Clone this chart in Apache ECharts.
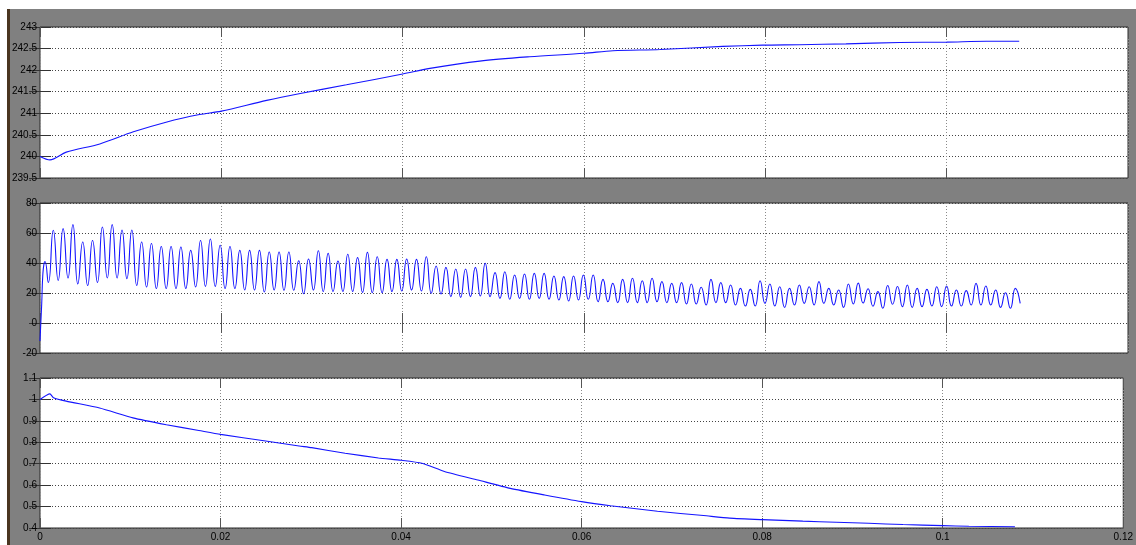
<!DOCTYPE html>
<html><head><meta charset="utf-8">
<script src="https://cdn.jsdelivr.net/npm/echarts@6/dist/echarts.min.js"></script>
<style>html,body{margin:0;padding:0;background:#808080;}#c{width:1136px;height:545px;}</style>
</head><body><div id="c"></div>
<script>
// ---- data ----
const xTickLabels = ['0', '0.02', '0.04', '0.06', '0.08', '0.1', '0.12'];

// Panel 1: [time, value]
const voltageSeries = [
  [0, 240.0], [0.0011, 239.92], [0.0029, 240.1], [0.0066, 240.29], [0.0103, 240.57],
  [0.014, 240.8], [0.0176, 240.97], [0.02, 241.05], [0.025, 241.3], [0.0287, 241.46],
  [0.0338, 241.66], [0.04, 241.91], [0.043, 242.04], [0.0485, 242.21], [0.054, 242.31],
  [0.06, 242.39], [0.0632, 242.45], [0.0684, 242.48], [0.0753, 242.55], [0.0797, 242.58],
  [0.0838, 242.59], [0.0889, 242.61], [0.0948, 242.64], [0.1, 242.65], [0.1044, 242.67],
  [0.108, 242.67]
];

// Panel 2: start transient [time, value], then cycle extremes
const currentStart = [[0, -12], [0.00019, 13], [0.0003, 31], [0.00044, 39.6], [0.00055, 41], [0.00092, 27]];
const currentFirstPeakTime = 0.001466;
const currentPeriod = 0.0010827;
const currentPeaks = [
  61.8, 62.9, 65.6, 54, 55, 64, 65.6, 62, 62, 54,
  53, 51, 51, 50.7, 48.4, 55, 56, 51.8, 51, 48.4,
  48.4, 48.4, 47.3, 47.3, 47.3, 41.5, 42.7, 48.2, 46.4, 41.3,
  45.8, 43.6, 47.1, 44.2, 42.4, 42.4, 42.7, 42.4, 44.2, 38,
  37.1, 36, 36, 37.1, 39.8, 33.6, 34.2, 32, 32.7, 33.1,
  33.1, 31.3, 30.9, 31.3, 32, 32, 29.1, 26.4, 29.1, 29.8,
  28.2, 29.8, 27.6, 26.4, 26.9, 26, 23.8, 29.1, 26.9, 25.3,
  23.1, 22.4, 28.2, 26, 24.2, 23.1, 25.3, 24.2, 27.6, 23.1,
  22, 26, 26.6, 22.8, 20.9, 25, 24.3, 25.3, 23.1, 22.4,
  24.2, 24.7, 22, 21.6, 26.4, 24.7, 22, 20.2, 23.1
];
const currentTroughs = [
  28.4, 30, 26, 25, 27, 30, 30, 29.6, 25, 24,
  23, 23, 23, 23, 24, 24.4, 24.4, 23, 23, 22,
  22, 20.7, 22, 21.8, 21.8, 19.5, 22, 21, 21, 21,
  21, 20.4, 20.2, 20.2, 21, 21.3, 22, 21.3, 19.8, 19.3,
  17.6, 17.1, 17.6, 18, 17.6, 16.4, 15.8, 16.4, 15.8, 16.4,
  15.8, 15.3, 14.7, 15.3, 15.8, 14.2, 14.2, 13.6, 13.6, 13.6,
  13.6, 14.2, 13.6, 13.6, 12.7, 12.7, 12, 13.6, 13.6, 12,
  11.3, 11.3, 13.1, 11.3, 10.4, 12, 13.1, 12, 13.1, 12,
  10.4, 12.7, 13.3, 11.2, 9.8, 12.5, 10.9, 10.4, 10.9, 11.3,
  10.9, 11.3, 11.3, 12, 12, 12, 10.4, 9.8, 13.1
];

// Panel 3: [time, value]
const ratioSeries = [
  [0, 1.0], [0.0011, 1.026], [0.0015, 1.008], [0.0029, 0.992], [0.0066, 0.96],
  [0.0103, 0.914], [0.014, 0.882], [0.0176, 0.855], [0.02, 0.837], [0.025, 0.806],
  [0.0287, 0.783], [0.0301, 0.775], [0.0338, 0.749], [0.0375, 0.727], [0.04, 0.716],
  [0.0423, 0.702], [0.0448, 0.664], [0.0485, 0.624], [0.0521, 0.585], [0.0559, 0.554],
  [0.06, 0.523], [0.0632, 0.504], [0.0684, 0.478], [0.0735, 0.458], [0.0764, 0.446],
  [0.08, 0.439], [0.0845, 0.432], [0.0882, 0.427], [0.0918, 0.422], [0.0956, 0.416],
  [0.1, 0.411], [0.1029, 0.408], [0.108, 0.406]
];

const yRanges = [
  { min: 239.5, max: 243, interval: 0.5 },
  { min: -20, max: 80, interval: 20 },
  { min: 0.4, max: 1.1, interval: 0.1 }
];

// ---- build ----
const currentSeries = currentStart.slice();
for (let i = 0; i < currentPeaks.length; i++) {
  currentSeries.push([currentFirstPeakTime + i * currentPeriod, currentPeaks[i]]);
  currentSeries.push([currentFirstPeakTime + (i + 0.5) * currentPeriod, currentTroughs[i]]);
}
const seriesData = [voltageSeries, currentSeries, ratioSeries];
const smoothness = [0.3, 0.55, 0.2];

const font = 'Liberation Sans, Arial, sans-serif';
const gridBoxes = [
  { top: 27, height: 151 },
  { top: 203, height: 150 },
  { top: 378, height: 150 }
];
const grids = gridBoxes.map(b => ({
  left: 40, top: b.top, width: 1088, height: b.height,
  show: true, backgroundColor: '#ffffff', borderColor: '#2a2a2a', borderWidth: 1
}));

const xAxes = [], yAxes = [], series = [];
for (let g = 0; g < 3; g++) {
  const xBase = {
    type: 'value', gridIndex: g, min: 0, max: 0.12, interval: 0.02,
    axisLine: { show: false },
    axisTick: { show: true, inside: true, length: 10, lineStyle: { color: '#555', width: 1 } }
  };
  xAxes.push(Object.assign({}, xBase, {
    position: 'bottom',
    axisLabel: {
      show: g === 2, margin: 4, fontSize: 10, fontFamily: font, color: '#000',
      formatter: v => xTickLabels[Math.round(v / 0.02)]
    },
    splitLine: { show: true, lineStyle: { color: '#8a8a8a', type: [1, 2], width: 1 } }
  }));
  xAxes.push(Object.assign({}, xBase, {
    position: 'top', axisLabel: { show: false }, splitLine: { show: false }
  }));
  const r = yRanges[g];
  const yBase = {
    type: 'value', gridIndex: g, min: r.min, max: r.max, interval: r.interval,
    axisLine: { show: false },
    axisTick: { show: true, inside: true, length: 11, lineStyle: { color: '#333', width: 1 } }
  };
  yAxes.push(Object.assign({}, yBase, {
    position: 'left',
    axisLabel: { show: true, margin: 3, fontSize: 10, fontFamily: font, color: '#000' },
    splitLine: { show: true, lineStyle: { color: '#444', type: [1, 2], width: 1 } }
  }));
  yAxes.push(Object.assign({}, yBase, {
    position: 'right', axisLabel: { show: false }, splitLine: { show: false }
  }));
  series.push({
    type: 'line', xAxisIndex: 2 * g, yAxisIndex: 2 * g,
    data: seriesData[g], showSymbol: false, symbol: 'none',
    smooth: smoothness[g],
    lineStyle: { color: '#1414ff', width: 1.1 }, silent: true
  });
}

const chart = echarts.init(document.getElementById('c'), null, { renderer: 'canvas' });
chart.setOption({
  animation: false,
  backgroundColor: '#808080',
  graphic: [
    { type: 'rect', shape: { x: 0, y: 0, width: 1136, height: 9 }, style: { fill: '#ffffff' }, silent: true },
    { type: 'rect', shape: { x: 0, y: 9, width: 7, height: 536 }, style: { fill: '#ffffff' }, silent: true },
    { type: 'rect', shape: { x: 7, y: 9, width: 3, height: 536 }, style: { fill: '#4a3520' }, silent: true }
  ],
  grid: grids,
  xAxis: xAxes,
  yAxis: yAxes,
  series: series
});
</script>
</body></html>
